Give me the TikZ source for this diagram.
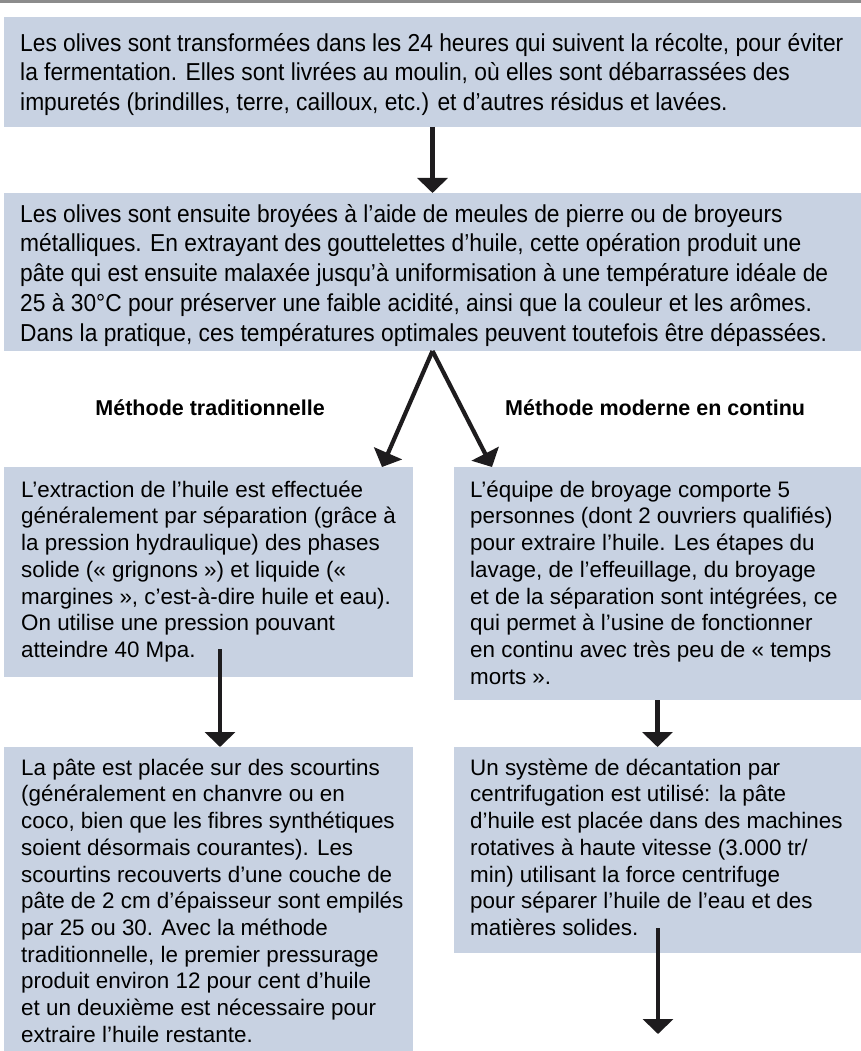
\documentclass[tikz,border=0pt]{standalone}
\usepackage{fontspec}
\setmainfont{Liberation Sans}
\newfontfamily\condfont[FakeStretch=0.93]{Liberation Sans}
\usetikzlibrary{arrows.meta}
\definecolor{boxfill}{RGB}{200,210,226}
\definecolor{arrowcol}{RGB}{30,28,30}
\definecolor{rulegray}{RGB}{140,140,140}
\tikzset{
  panel/.style={fill=boxfill, draw=none, anchor=north west, inner sep=0pt, outer sep=0pt},
  toptext/.style={anchor=north west, align=left, inner sep=0pt, font=\condfont\fontsize{24.5}{29.75}\selectfont},
  bodytext/.style={anchor=north west, align=left, inner sep=0pt, font=\fontsize{22.4}{26.7}\selectfont},
  methlabel/.style={font=\bfseries\fontsize{21.5}{26}\selectfont, inner sep=0pt},
  flow/.style={draw=arrowcol, line width=4.2pt, -{Triangle[width=30pt,length=15pt]}},
}
\begin{document}
\begin{tikzpicture}[x=1pt,y=1pt]
\useasboundingbox (0,0) rectangle (861,-1051);
\fill[rulegray] (0,0) rectangle (861,-3);
% panels
\node[panel, minimum width=857pt, minimum height=110pt] (b1) at (4,-17) {};
\node[panel, minimum width=857pt, minimum height=158pt] (b2) at (4,-193) {};
\node[panel, minimum width=409pt, minimum height=210pt] (l3) at (4,-467) {};
\node[panel, minimum width=407pt, minimum height=233pt] (r3) at (454,-467) {};
\node[panel, minimum width=409pt, minimum height=304pt] (l4) at (4,-747) {};
\node[panel, minimum width=407pt, minimum height=206pt] (r4) at (454,-747) {};
% texts
\node[toptext] (t1) at (20,-23) {\rule{0pt}{28pt}Les olives sont transformées dans les 24 heures qui suivent la récolte, pour éviter\\
la fermentation. Elles sont livrées au moulin, où elles sont débarrassées des\\
impuretés (brindilles, terre, cailloux, etc.) et d’autres résidus et lavées.};
\node[toptext] (t2) at (20,-194) {\rule{0pt}{28pt}Les olives sont ensuite broyées à l’aide de meules de pierre ou de broyeurs\\
métalliques. En extrayant des gouttelettes d’huile, cette opération produit une\\
pâte qui est ensuite malaxée jusqu’à uniformisation à une température idéale de\\
25 à 30°C pour préserver une faible acidité, ainsi que la couleur et les arômes.\\
Dans la pratique, ces températures optimales peuvent toutefois être dépassées.};
\node[bodytext] (t3) at (21,-473) {\rule{0pt}{24pt}L’extraction de l’huile est effectuée\\
généralement par séparation (grâce à\\
la pression hydraulique) des phases\\
solide (« grignons ») et liquide («\\
margines », c’est-à-dire huile et eau).\\
On utilise une pression pouvant\\
atteindre 40 Mpa.};
\node[bodytext] (t4) at (470,-473) {\rule{0pt}{24pt}L’équipe de broyage comporte 5\\
personnes (dont 2 ouvriers qualifiés)\\
pour extraire l’huile. Les étapes du\\
lavage, de l’effeuillage, du broyage\\
et de la séparation sont intégrées, ce\\
qui permet à l’usine de fonctionner\\
en continu avec très peu de « temps\\
morts ».};
\node[bodytext] (t5) at (21,-751) {\rule{0pt}{24pt}La pâte est placée sur des scourtins\\
(généralement en chanvre ou en\\
coco, bien que les fibres synthétiques\\
soient désormais courantes). Les\\
scourtins recouverts d’une couche de\\
pâte de 2 cm d’épaisseur sont empilés\\
par 25 ou 30. Avec la méthode\\
traditionnelle, le premier pressurage\\
produit environ 12 pour cent d’huile\\
et un deuxième est nécessaire pour\\
extraire l’huile restante.};
\node[bodytext] (t6) at (470,-751) {\rule{0pt}{24pt}Un système de décantation par\\
centrifugation est utilisé: la pâte\\
d’huile est placée dans des machines\\
rotatives à haute vitesse (3.000 tr/\\
min) utilisant la force centrifuge\\
pour séparer l’huile de l’eau et des\\
matières solides.};
% labels
\node[methlabel, anchor=base east] (m1) at (325,-415) {Méthode traditionnelle};
\node[methlabel, anchor=base west] (m2) at (505,-415) {Méthode moderne en continu};
% connector end points
\coordinate (l3in) at ([xshift=378pt]l3.north west);
\coordinate (r3in) at ([xshift=38pt]r3.north west);
\coordinate (l3out) at (220,-649);
\coordinate (r4out) at (658,-928);
\coordinate (r4end) at (658,-1034);
% connectors
\draw[flow] (b1.south) -- (b2.north);
\draw[flow] (b2.south) -- (l3in);
\draw[flow] (b2.south) -- (r3in);
\draw[flow] (l3out) -- (l3out |- l4.north);
\draw[flow] (r3.south) -- (r4.north);
\draw[flow] (r4out) -- (r4end);
\end{tikzpicture}
\end{document}
